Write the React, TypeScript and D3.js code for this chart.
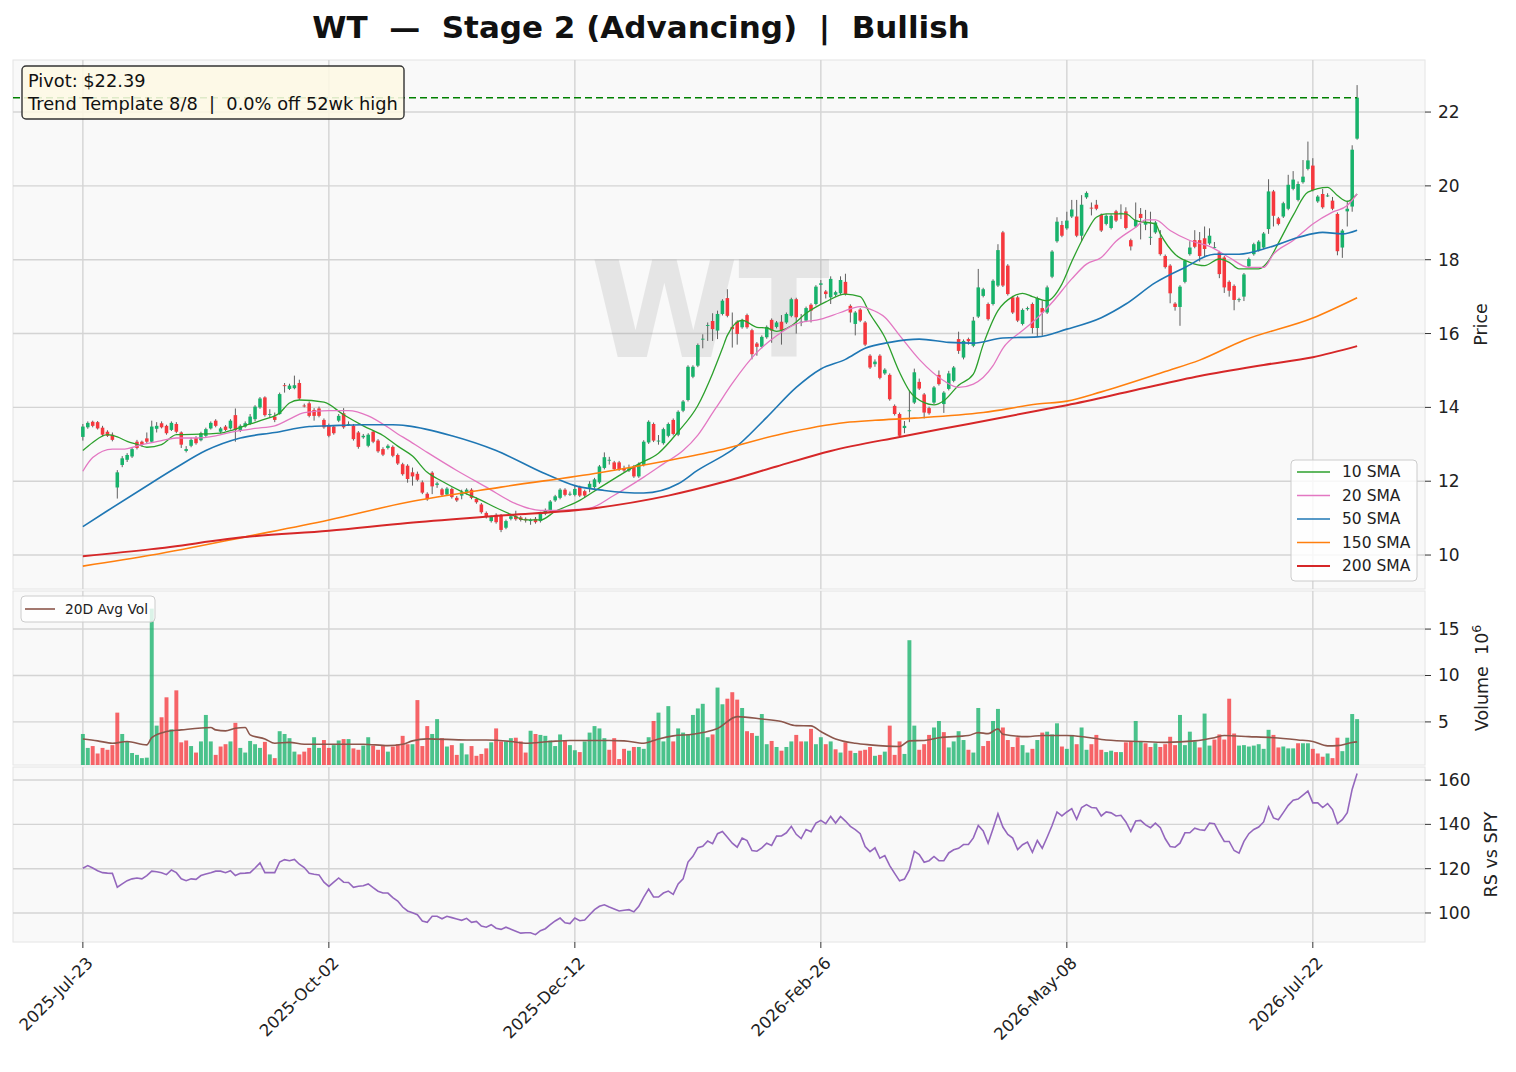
import React from 'react';
import * as d3 from 'd3';

const W = 1516, H = 1072;
const X0 = 13, X1 = 1425;
const P_TOP = 60, P_BOT = 589, V_TOP = 591, V_BOT = 765, R_TOP = 767, R_BOT = 942;
const FONT = 'DejaVu Sans';

const titleText = 'WT  —  Stage 2 (Advancing)  |  Bullish';
const ticker = 'WT';
const pivot = 22.39;
const noteLines = ['Pivot: $22.39', 'Trend Template 8/8  |  0.0% off 52wk high'];

const dateTickIdx = [0, 50, 100, 150, 200, 250];
const dateTickLabels = ['2025-Jul-23', '2025-Oct-02', '2025-Dec-12', '2026-Feb-26', '2026-May-08', '2026-Jul-22'];
const priceTicks = [10, 12, 14, 16, 18, 20, 22];
const volTicks = [5, 10, 15];
const rsTicks = [100, 120, 140, 160];

const opens = [
  13.20,13.46,13.61,13.60,13.45,13.34,13.26,11.83,12.44,12.58,
  12.67,13.07,13.07,13.16,13.07,13.42,13.57,13.50,13.39,13.55,
  13.32,12.82,12.96,13.17,13.11,13.23,13.43,13.64,13.34,13.48,
  13.43,13.79,13.36,13.48,13.55,13.68,14.00,14.27,13.80,13.75,
  13.82,14.60,14.50,14.52,14.66,14.05,14.11,13.93,13.97,13.66,
  13.52,13.48,13.64,13.84,13.55,13.50,13.32,13.19,12.96,13.34,
  13.10,12.87,12.90,12.93,12.71,12.46,12.42,12.24,12.20,11.97,
  11.66,12.23,11.90,11.78,11.64,11.79,11.55,11.61,11.68,11.77,
  11.52,11.37,11.14,10.92,11.09,11.07,10.74,10.98,11.06,11.02,
  10.98,10.92,10.98,10.92,11.12,11.20,11.48,11.55,11.77,11.66,
  11.63,11.84,11.73,11.82,11.84,11.97,12.36,12.58,12.51,12.51,
  12.35,12.29,12.40,12.13,12.44,13.05,13.55,13.10,13.03,13.23,
  13.66,13.26,13.91,14.20,14.83,15.13,15.84,16.21,16.34,16.08,
  16.53,16.96,16.18,16.32,16.17,16.50,16.09,15.73,15.64,15.90,
  16.37,16.18,16.32,16.30,16.48,16.93,16.30,16.35,16.78,16.80,
  17.32,17.14,16.98,17.05,17.09,17.40,16.75,16.26,16.65,16.30,
  15.40,15.17,15.40,14.92,14.88,14.04,13.82,13.44,13.90,14.13,
  14.69,14.35,13.98,14.13,14.88,14.09,14.50,14.72,15.85,15.35,
  15.85,15.67,16.46,17.02,16.80,16.80,17.30,18.74,17.84,16.98,
  16.98,16.26,16.66,16.80,16.15,16.69,16.57,17.54,18.50,18.94,
  18.85,19.17,19.17,18.65,19.69,19.41,19.49,19.21,18.97,18.86,
  19.31,19.27,19.31,18.53,18.90,19.24,18.95,18.62,18.74,18.59,
  18.10,17.84,16.81,16.72,17.40,18.15,18.53,18.53,18.58,18.44,
  18.34,18.20,18.06,17.40,17.29,16.93,17.00,17.82,18.15,18.26,
  18.33,18.83,19.85,19.12,19.17,19.38,19.92,19.62,20.10,20.46,
  20.55,19.58,19.78,19.74,19.60,19.24,18.33,19.31,19.44,21.28,
];

const highs = [
  13.55,13.62,13.64,13.63,13.50,13.38,13.32,12.30,12.68,12.76,
  12.92,13.12,13.10,13.32,13.64,13.60,13.62,13.53,13.62,13.60,
  13.35,12.95,13.18,13.22,13.34,13.45,13.62,13.68,13.47,13.52,
  13.68,13.97,13.54,13.62,13.82,14.06,14.28,14.30,13.95,13.86,
  14.40,14.66,14.64,14.86,14.75,14.10,14.16,13.98,14.02,13.70,
  13.56,13.52,13.82,13.98,13.62,13.55,13.36,13.28,13.30,13.38,
  13.14,12.92,13.00,12.97,12.75,12.50,12.46,12.37,12.26,12.02,
  11.70,12.27,11.98,11.82,11.84,11.83,11.60,11.77,11.81,11.81,
  11.56,11.41,11.18,11.07,11.13,11.11,10.96,11.09,11.20,11.06,
  11.02,10.99,11.03,11.17,11.26,11.49,11.63,11.81,11.81,11.72,
  11.90,11.88,11.77,12.00,12.09,12.44,12.78,12.66,12.55,12.55,
  12.42,12.45,12.44,12.51,13.11,13.65,13.59,13.25,13.45,13.59,
  13.70,13.92,14.20,15.14,15.14,15.73,15.98,16.30,16.55,16.62,
  16.93,17.20,16.57,16.36,16.40,16.54,16.13,15.77,15.95,16.22,
  16.41,16.34,16.50,16.57,16.97,16.97,16.53,16.73,16.82,17.31,
  17.45,17.18,17.55,17.16,17.55,17.62,16.79,16.61,16.69,16.34,
  15.44,15.30,15.44,15.06,14.92,14.08,13.86,13.63,14.45,15.05,
  14.78,14.39,14.02,14.58,15.00,14.44,14.99,15.12,16.05,15.84,
  15.89,16.45,17.75,17.24,16.84,17.47,18.42,18.78,17.88,17.02,
  17.02,16.68,16.73,16.84,17.00,16.90,17.30,18.26,19.15,19.05,
  19.30,19.62,19.62,19.75,19.85,19.55,19.62,19.25,19.23,19.23,
  19.35,19.50,19.42,18.57,19.55,19.40,19.35,19.30,19.05,18.80,
  18.14,17.88,16.85,17.31,18.01,18.50,18.80,18.75,18.90,18.85,
  18.48,18.24,18.10,17.44,17.33,16.97,17.64,18.06,18.46,18.53,
  18.75,20.18,19.89,19.16,19.57,20.30,20.40,20.12,20.70,21.20,
  20.75,19.75,19.92,19.80,19.70,19.28,18.83,19.60,21.10,22.73,
];

const lows = [
  13.10,13.42,13.46,13.40,13.22,13.20,13.08,11.53,12.38,12.52,
  12.63,12.86,12.94,13.03,13.05,13.32,13.43,13.26,13.36,13.30,
  12.90,12.78,12.92,12.99,13.08,13.20,13.40,13.46,13.30,13.36,
  13.40,13.07,13.33,13.45,13.52,13.62,13.96,13.75,13.72,13.60,
  13.80,14.40,14.47,14.49,14.20,14.00,13.73,13.64,13.73,13.42,
  13.19,13.26,13.60,13.42,13.50,13.10,12.88,13.15,12.92,13.03,
  12.77,12.68,12.86,12.65,12.44,12.15,11.96,11.88,12.00,11.65,
  11.47,11.65,11.82,11.59,11.60,11.53,11.44,11.51,11.64,11.51,
  11.39,11.12,10.99,10.88,10.85,10.62,10.70,10.94,10.93,10.91,
  10.88,10.82,10.85,10.88,11.08,11.16,11.44,11.51,11.59,11.60,
  11.59,11.57,11.57,11.70,11.80,11.93,12.32,12.45,12.29,12.28,
  12.25,12.25,12.09,12.09,12.40,13.01,13.06,12.99,12.99,13.19,
  13.24,13.22,13.87,14.16,14.79,15.09,15.60,15.80,15.80,15.85,
  16.49,16.44,15.62,15.70,16.13,16.13,15.30,15.40,15.60,15.86,
  15.75,16.14,15.70,16.26,16.44,16.00,16.20,16.31,16.30,16.76,
  16.80,16.95,16.80,17.00,17.05,17.03,16.30,15.95,16.31,15.66,
  15.04,15.10,14.76,14.88,14.18,13.78,13.19,13.30,13.60,14.09,
  14.47,13.70,13.80,14.09,14.59,13.85,14.46,14.68,15.45,15.30,
  15.70,15.63,16.42,16.98,16.35,16.76,17.26,17.26,17.03,16.53,
  16.31,16.22,16.62,16.00,15.92,15.94,16.53,17.50,18.46,18.61,
  18.81,19.13,18.61,18.50,19.65,19.20,19.34,18.75,18.93,18.82,
  19.02,19.10,18.82,18.25,18.86,18.55,18.80,18.40,18.70,18.11,
  17.76,16.82,16.62,16.21,17.36,18.11,18.31,17.95,18.10,18.40,
  18.30,17.50,17.10,17.00,16.63,16.85,16.88,17.78,18.11,18.22,
  18.29,18.70,18.90,18.93,19.13,19.34,19.88,19.58,20.06,20.42,
  19.85,19.54,19.38,19.70,19.34,18.12,18.05,18.90,19.30,21.25,
];

const closes = [
  13.48,13.58,13.50,13.43,13.26,13.23,13.12,12.24,12.62,12.71,
  12.87,12.90,12.98,13.07,13.48,13.50,13.46,13.30,13.58,13.34,
  12.99,12.87,13.12,13.03,13.30,13.41,13.58,13.50,13.43,13.39,
  13.64,13.39,13.50,13.57,13.75,14.02,14.24,13.79,13.82,13.66,
  14.36,14.58,14.59,14.60,14.24,14.04,13.77,13.77,13.77,13.46,
  13.23,13.30,13.77,13.46,13.55,13.14,12.93,13.23,13.26,13.07,
  12.81,12.72,12.96,12.69,12.48,12.19,12.06,12.13,12.04,11.69,
  11.51,11.86,11.94,11.63,11.80,11.57,11.48,11.70,11.77,11.55,
  11.43,11.16,11.03,11.03,10.89,10.68,10.92,11.05,10.97,10.95,
  10.94,10.95,10.89,11.13,11.22,11.45,11.59,11.77,11.63,11.66,
  11.79,11.61,11.61,11.93,12.05,12.40,12.65,12.58,12.33,12.32,
  12.29,12.35,12.13,12.47,13.07,13.61,13.10,13.10,13.41,13.55,
  13.28,13.88,14.16,15.10,15.10,15.69,15.86,16.23,16.12,16.53,
  16.89,16.48,16.12,15.99,16.36,16.17,15.44,15.64,15.91,16.18,
  16.08,16.30,16.08,16.53,16.93,16.44,16.32,16.69,16.62,17.27,
  17.36,17.07,17.48,17.12,17.45,17.07,16.57,16.57,16.35,15.70,
  15.08,15.24,14.80,15.02,14.22,13.82,13.23,13.50,13.92,14.95,
  14.51,13.86,13.84,14.54,14.63,14.40,14.92,15.08,15.53,15.80,
  15.79,16.35,17.25,17.20,16.39,17.43,18.26,17.30,17.07,16.57,
  16.35,16.64,16.69,16.15,16.96,16.57,17.25,18.22,19.03,18.65,
  19.06,19.36,18.65,19.49,19.81,19.40,19.38,18.79,19.19,19.19,
  19.06,19.27,18.86,18.36,19.08,19.13,19.01,18.62,19.01,18.15,
  17.80,17.09,16.72,17.27,17.97,18.33,18.35,18.10,18.29,18.65,
  18.34,17.61,17.25,17.16,16.91,16.93,17.60,18.02,18.42,18.49,
  18.71,19.85,19.19,18.97,19.53,20.03,20.17,20.05,20.25,20.69,
  19.89,19.71,19.42,19.74,19.38,18.23,18.79,19.38,20.98,22.39,
];

// volume in millions
const volumes = [
  3.7,2.2,2.4,1.6,2.2,2.0,2.5,6.0,3.7,2.9,
  1.65,1.45,1.1,1.15,17.2,4.6,5.5,7.65,4.2,8.4,
  2.8,3.0,2.4,1.7,2.9,5.75,2.9,1.45,2.35,2.6,
  2.9,4.9,2.2,1.7,2.95,2.6,2.2,2.85,1.5,1.1,
  4.0,3.7,3.25,1.8,1.5,1.8,2.2,3.35,2.2,3.05,
  2.2,2.5,3.0,3.15,3.15,2.15,2.0,2.45,3.35,2.45,
  2.0,2.4,1.8,2.35,2.6,3.5,2.6,2.6,7.35,2.4,
  4.55,3.7,5.3,3.25,2.35,2.5,1.45,2.7,1.5,2.4,
  1.35,1.55,2.15,2.8,4.3,2.9,2.9,3.25,3.3,2.9,
  1.7,4.05,3.7,3.6,3.5,3.0,2.4,3.65,3.05,2.5,
  1.95,1.75,2.9,3.85,4.55,4.3,3.25,2.0,3.25,1.0,
  2.1,1.9,2.3,2.3,2.1,3.35,5.1,6.0,2.9,6.7,
  2.9,4.3,3.85,3.65,5.75,6.45,6.95,3.35,3.65,8.7,
  6.9,7.5,8.2,7.4,6.5,4.0,3.8,3.5,5.85,2.6,
  2.95,2.3,1.9,2.3,2.9,3.6,2.9,2.9,4.25,2.6,
  3.35,2.6,2.9,2.05,1.7,2.8,1.9,1.65,1.9,2.0,
  2.3,1.35,1.45,1.8,4.6,1.45,2.9,1.55,13.8,4.6,
  2.0,2.6,3.6,4.4,5.1,3.9,2.25,2.9,4.0,3.05,
  2.0,1.7,6.5,2.4,2.95,5.1,6.4,4.4,3.05,2.3,
  3.35,2.5,1.7,2.1,3.05,3.85,3.95,3.65,4.85,2.35,
  2.1,3.6,2.6,4.4,2.0,2.6,3.6,2.0,1.75,1.9,
  1.75,1.75,2.8,2.9,5.1,2.9,2.7,2.3,2.7,2.3,
  2.6,3.4,2.5,5.75,2.5,3.95,2.9,2.25,5.9,2.45,
  3.1,3.65,3.1,7.5,3.75,2.45,2.5,2.35,2.45,2.6,
  2.1,4.15,3.6,2.25,2.35,2.15,2.15,2.7,2.7,2.7,
  2.1,1.6,1.25,1.6,1.1,3.3,1.85,3.3,5.85,5.3,
];

const rsVsSpy = [
  120.2,121.4,120.3,119.1,118.2,118.0,117.9,111.6,113.1,114.6,
  115.4,115.8,115.4,116.9,118.9,118.6,118.2,117.3,119.4,118.2,
  115.4,114.6,115.4,115.2,116.9,117.6,118.2,118.9,118.9,118.2,
  119.1,116.9,117.9,118.0,118.2,120.3,122.6,118.2,118.2,118.2,
  123.0,124.1,123.6,124.2,122.0,120.5,117.9,117.5,117.2,113.9,
  112.0,113.9,115.8,113.9,113.8,111.6,112.1,112.3,113.1,111.4,
  109.8,109.0,109.0,106.9,105.4,102.7,100.9,100.1,99.2,96.4,
  95.8,98.5,98.5,97.4,98.5,97.9,97.3,96.7,97.6,95.8,
  96.2,94.1,93.6,94.7,93.1,92.6,93.6,92.7,91.8,90.9,
  91.1,91.1,90.2,92.0,92.9,94.7,96.4,97.7,95.6,95.2,
  97.7,96.5,96.8,99.2,101.5,103.0,103.7,102.7,101.8,100.9,
  101.2,101.5,100.5,103.0,107.2,110.8,107.2,107.2,109.0,109.9,
  108.4,113.1,115.4,123.0,125.6,129.5,130.1,132.5,131.3,135.8,
  136.8,134.2,131.5,129.7,133.8,132.7,128.2,127.9,129.4,131.5,
  130.5,134.7,134.8,136.2,139.1,135.5,133.6,137.7,136.7,140.6,
  141.8,140.3,143.6,140.6,143.6,141.5,139.1,137.6,135.8,130.0,
  127.7,129.4,124.7,125.9,121.4,117.9,114.5,115.3,119.4,127.9,
  126.4,122.9,123.6,125.5,123.6,123.6,127.1,128.5,129.2,130.9,
  130.9,133.9,139.5,137.0,131.5,138.0,144.8,138.8,135.5,133.8,
  128.6,130.8,132.0,127.4,132.7,129.2,134.2,139.5,145.6,143.8,
  145.6,147.1,142.3,147.6,148.9,147.6,147.4,143.8,145.6,145.2,
  143.8,144.1,141.1,136.8,141.5,141.8,139.8,138.5,140.6,138.5,
  133.5,130.0,129.7,131.5,136.2,136.2,138.3,137.6,137.3,140.6,
  140.3,136.1,132.3,132.3,128.2,127.0,132.3,135.8,137.7,138.8,
  141.1,147.9,142.9,142.1,145.3,148.6,150.9,151.4,153.2,155.0,
  149.7,149.7,147.6,149.4,146.7,140.3,142.1,145.3,155.9,163.0,
];

// moving averages: [bar index, value]
const sma10 = [[0,12.83],[2,13.05],[5,13.26],[7,13.2],[9,13.08],[11,13.0],[13,12.92],[16,12.99],[19,13.26],[25,13.28],[28,13.3],[30,13.37],[34,13.55],[37,13.68],[40,13.85],[42,14.12],[44,14.2],[49,14.14],[53,13.8],[57,13.5],[61,13.24],[64,12.95],[67,12.68],[70,12.24],[73,12.0],[77,11.72],[81,11.48],[84,11.28],[87,11.1],[90,10.95],[93,10.95],[96,11.18],[101,11.48],[105,11.82],[109,12.15],[113,12.47],[117,12.76],[121,13.34],[125,14.05],[128,14.92],[130,15.6],[131,15.95],[134,16.36],[137,16.17],[139,16.15],[141,16.06],[144,16.21],[147,16.55],[151,16.86],[155,17.07],[158,17.0],[160,16.53],[163,15.9],[166,14.95],[168,14.45],[171,14.13],[173,14.07],[175,14.18],[178,14.6],[181,14.9],[183,15.7],[186,16.62],[189,17.0],[191,17.09],[193,17.0],[196,16.89],[199,17.34],[201,17.95],[204,18.75],[206,19.15],[208,19.24],[212,19.24],[214,19.06],[218,18.97],[219,18.7],[222,18.15],[225,17.93],[228,17.84],[231,18.02],[233,17.93],[235,17.75],[239,17.75],[241,17.97],[243,18.45],[246,19.2],[249,19.83],[253,19.96],[255,19.74],[257,19.58],[259,19.78]];
const sma20 = [[0,12.27],[2,12.64],[6,12.87],[8,12.87],[12,12.99],[16,13.1],[19,13.17],[23,13.17],[27,13.23],[31,13.35],[35,13.43],[39,13.5],[42,13.68],[45,13.86],[50,13.91],[54,13.91],[58,13.77],[62,13.46],[64,13.28],[66,13.12],[70,12.78],[76,12.29],[82,11.84],[88,11.39],[93,11.21],[96,11.21],[103,11.27],[108,11.62],[114,12.11],[118,12.47],[122,12.83],[125,13.25],[128,13.85],[129,14.05],[132,14.65],[137,15.49],[141,15.94],[145,16.26],[150,16.39],[154,16.57],[158,16.73],[160,16.66],[163,16.44],[166,15.95],[170,15.3],[175,14.72],[178,14.54],[181,14.63],[185,15.13],[187,15.6],[191,16.08],[194,16.42],[197,16.84],[201,17.48],[204,17.88],[207,18.06],[210,18.5],[214,18.88],[216,19.08],[218,19.08],[221,18.79],[225,18.52],[229,18.36],[233,18.06],[237,17.79],[240,17.79],[242,18.15],[246,18.52],[250,18.97],[254,19.29],[257,19.47],[259,19.78]];
const sma50 = [[0,10.77],[5,11.2],[12,11.79],[19,12.37],[25,12.83],[32,13.17],[39,13.32],[46,13.48],[50,13.5],[57,13.53],[63,13.53],[66,13.5],[75,13.23],[84,12.83],[94,12.2],[100,11.88],[106,11.75],[114,11.68],[121,11.93],[125,12.3],[130,12.68],[132,12.85],[139,13.73],[145,14.54],[150,15.04],[155,15.3],[159,15.6],[164,15.76],[170,15.85],[176,15.76],[181,15.74],[187,15.88],[194,15.91],[200,16.12],[207,16.43],[212,16.8],[218,17.38],[224,17.79],[230,18.15],[235,18.15],[241,18.33],[247,18.6],[252,18.74],[256,18.7],[259,18.8]];
const sma150 = [[0,9.7],[14,10.0],[34,10.52],[50,10.95],[66,11.43],[85,11.84],[105,12.23],[119,12.56],[129,12.83],[142,13.28],[155,13.59],[161,13.65],[169,13.71],[183,13.86],[194,14.09],[200,14.17],[207,14.42],[220,14.97],[227,15.28],[236,15.82],[250,16.42],[259,16.97]];
const sma200 = [[0,9.97],[14,10.16],[34,10.5],[50,10.66],[66,10.87],[85,11.07],[104,11.27],[119,11.61],[130,11.97],[141,12.4],[152,12.82],[166,13.2],[180,13.55],[194,13.91],[200,14.06],[214,14.47],[227,14.85],[240,15.15],[250,15.36],[259,15.66]];
const avgVol20 = [[0,3.17],[3,2.96],[6,2.7],[9,2.89],[13,2.53],[14,3.3],[17,3.96],[20,4.14],[26,4.4],[27,4.14],[29,4.03],[31,4.32],[33,4.4],[34,3.6],[37,3.17],[39,2.7],[42,2.8],[45,2.6],[50,2.6],[57,2.6],[62,2.45],[65,2.6],[67,2.96],[70,3.17],[78,3.06],[82,3.06],[87,2.89],[90,2.7],[95,2.89],[99,3.0],[107,3.0],[110,2.96],[114,2.7],[117,3.17],[120,3.5],[124,3.67],[127,3.96],[129,4.3],[133,5.57],[138,5.32],[142,5.04],[145,4.6],[148,4.57],[150,3.96],[153,3.17],[157,2.7],[160,2.53],[166,2.35],[168,2.96],[171,3.0],[174,3.3],[180,3.53],[182,3.85],[184,3.74],[186,4.25],[187,3.67],[192,3.42],[195,3.53],[200,3.53],[204,3.35],[208,3.06],[215,2.89],[220,2.8],[226,2.96],[230,3.3],[232,3.53],[237,3.42],[242,3.3],[247,3.06],[250,2.89],[253,2.42],[255,2.45],[258,2.78],[259,2.85]];

const smaSeries = [
  { name: '10 SMA', data: sma10, color: '#2ca02c', width: 1.3 },
  { name: '20 SMA', data: sma20, color: '#e377c2', width: 1.3 },
  { name: '50 SMA', data: sma50, color: '#1f77b4', width: 1.6 },
  { name: '150 SMA', data: sma150, color: '#ff7f0e', width: 1.6 },
  { name: '200 SMA', data: sma200, color: '#d62728', width: 2.0 },
];

const UP = '#18b26b';
const DOWN = '#f5383e';
const GRID = '#d4d4d4';

export default function App() {
  const x = d3.scaleLinear().domain([-14.2, 272.8]).range([X0, X1]);
  const yP = d3.scaleLinear().domain([9.08, 23.41]).range([P_BOT, P_TOP]);
  const yV = d3.scaleLinear().domain([0.36, 19.1]).range([V_BOT, V_TOP]);
  const yR = d3.scaleLinear().domain([86.9, 165.9]).range([R_BOT, R_TOP]);
  const step = x(1) - x(0);
  const bodyW = step * 0.72;
  const volW = step * 0.8;
  const lastIdx = closes.length - 1;

  const smaLine = d3.line<number[]>().x(d => x(d[0])).y(d => yP(d[1])).curve(d3.curveMonotoneX);
  const volLine = d3.line<number[]>().x(d => x(d[0])).y(d => yV(d[1])).curve(d3.curveMonotoneX);
  const rsLine = d3.line<number>().x((_, i) => x(i)).y(d => yR(d));

  const panels = [
    [P_TOP, P_BOT],
    [V_TOP, V_BOT],
    [R_TOP, R_BOT],
  ];

  const yTickText = (y: number, label: string, key: string) => (
    <g key={key}>
      <line x1={X1} x2={X1 + 6} y1={y} y2={y} stroke="#333" strokeWidth={1} />
      <text x={X1 + 13} y={y} dominantBaseline="central" fontSize={17} fill="#222">{label}</text>
    </g>
  );

  return (
    <svg width={W} height={H} style={{ position: 'absolute', left: 0, top: 0, background: '#fff' }} fontFamily={FONT}>
      <rect x={0} y={0} width={W} height={H} fill="#ffffff" />
      <text x={641} y={38} textAnchor="middle" fontSize={31} fontWeight="bold" fill="#111" style={{ whiteSpace: 'pre' }}>{titleText}</text>

      {panels.map(([t, b], k) => (
        <rect key={'pb' + k} x={X0} y={t} width={X1 - X0} height={b - t} fill="#f9f9f9" stroke="#e4e4e4" strokeWidth={1} />
      ))}

      {/* vertical grid */}
      {panels.map(([t, b], k) => dateTickIdx.map(i => (
        <line key={'vg' + k + '-' + i} x1={x(i)} x2={x(i)} y1={t} y2={b} stroke={GRID} strokeWidth={1.4} />
      )))}
      {/* horizontal grid */}
      {priceTicks.map(v => <line key={'pg' + v} x1={X0} x2={X1} y1={yP(v)} y2={yP(v)} stroke={GRID} strokeWidth={1.4} />)}
      {volTicks.map(v => <line key={'vgr' + v} x1={X0} x2={X1} y1={yV(v)} y2={yV(v)} stroke={GRID} strokeWidth={1.4} />)}
      {rsTicks.map(v => <line key={'rg' + v} x1={X0} x2={X1} y1={yR(v)} y2={yR(v)} stroke={GRID} strokeWidth={1.4} />)}

      {/* watermark */}
      <text x={710} y={311} textAnchor="middle" dominantBaseline="central" fontSize={134} fontWeight="bold" fill="#8a8a8a" opacity={0.17}>{ticker}</text>

      {/* candles */}
      {closes.map((c, i) => {
        const o = opens[i];
        const up = c >= o;
        const top = yP(Math.max(o, c));
        const bot = yP(Math.min(o, c));
        return (
          <g key={'c' + i}>
            <line x1={x(i)} x2={x(i)} y1={yP(highs[i])} y2={yP(lows[i])} stroke="#5f5f5f" strokeWidth={1} />
            <rect x={x(i) - bodyW / 2} y={top} width={bodyW} height={Math.max(bot - top, 0.9)} fill={up ? UP : DOWN} />
          </g>
        );
      })}

      {/* moving averages */}
      {smaSeries.map(s => (
        <path key={s.name} d={smaLine(s.data) || ''} fill="none" stroke={s.color} strokeWidth={s.width} />
      ))}

      {/* pivot line */}
      <line x1={X0} x2={x(lastIdx)} y1={yP(pivot)} y2={yP(pivot)} stroke="#008000" strokeWidth={1.5} strokeDasharray="7,4" />

      {/* annotation */}
      <rect x={22} y={66} width={382} height={53} rx={4} fill="#fdf8e4" fillOpacity={0.88} stroke="#333" strokeWidth={1.4} />
      <text x={28} y={80} dominantBaseline="central" fontSize={17.8} fill="#111">{noteLines[0]}</text>
      <text x={28} y={103} dominantBaseline="central" fontSize={17.8} fill="#111" style={{ whiteSpace: 'pre' }}>{noteLines[1]}</text>

      {/* SMA legend */}
      <rect x={1291} y={460} width={126} height={121} rx={4} fill="#ffffff" fillOpacity={0.8} stroke="#cccccc" strokeWidth={1} />
      {smaSeries.map((s, k) => (
        <g key={'lg' + k}>
          <line x1={1297} x2={1330} y1={472 + k * 23.5} y2={472 + k * 23.5} stroke={s.color} strokeWidth={s.width} />
          <text x={1342} y={472 + k * 23.5} dominantBaseline="central" fontSize={15.5} fill="#222">{s.name}</text>
        </g>
      ))}

      {/* volume */}
      {volumes.map((v, i) => {
        const up = i === 0 ? true : closes[i] >= closes[i - 1];
        return (
          <rect key={'v' + i} x={x(i) - volW / 2} y={yV(v)} width={volW} height={V_BOT - yV(v)} fill={up ? UP : DOWN} fillOpacity={0.78} />
        );
      })}
      <path d={volLine(avgVol20) || ''} fill="none" stroke="#8c564b" strokeWidth={1.6} />
      <rect x={21} y={596} width={134} height={26} rx={4} fill="#ffffff" fillOpacity={0.8} stroke="#cccccc" strokeWidth={1} />
      <line x1={25} x2={55} y1={609} y2={609} stroke="#8c564b" strokeWidth={1.6} />
      <text x={65} y={609} dominantBaseline="central" fontSize={13.8} fill="#222">20D Avg Vol</text>

      {/* RS */}
      <path d={rsLine(rsVsSpy) || ''} fill="none" stroke="#9467bd" strokeWidth={1.6} />

      {/* right axes */}
      {priceTicks.map(v => yTickText(yP(v), String(v), 'pt' + v))}
      {volTicks.map(v => yTickText(yV(v), String(v), 'vt' + v))}
      {rsTicks.map(v => yTickText(yR(v), String(v), 'rt' + v))}

      <text transform={`translate(1487,${(P_TOP + P_BOT) / 2}) rotate(-90)`} textAnchor="middle" fontSize={17.5} fill="#222">Price</text>
      <text transform={`translate(1488,${(V_TOP + V_BOT) / 2}) rotate(-90)`} textAnchor="middle" fontSize={17.5} fill="#222" style={{ whiteSpace: 'pre' }}>
        {'Volume  10'}<tspan dy={-7} fontSize={12.5}>6</tspan>
      </text>
      <text transform={`translate(1497,${(R_TOP + R_BOT) / 2}) rotate(-90)`} textAnchor="middle" fontSize={17.5} fill="#222">RS vs SPY</text>

      {/* x axis */}
      {dateTickIdx.map((i, k) => (
        <g key={'xt' + i}>
          <line x1={x(i)} x2={x(i)} y1={R_BOT} y2={R_BOT + 6} stroke="#333" strokeWidth={1} />
          <text transform={`translate(${x(i) + 11},${964}) rotate(-45)`} textAnchor="end" fontSize={16.5} fill="#222">{dateTickLabels[k]}</text>
        </g>
      ))}
    </svg>
  );
}
